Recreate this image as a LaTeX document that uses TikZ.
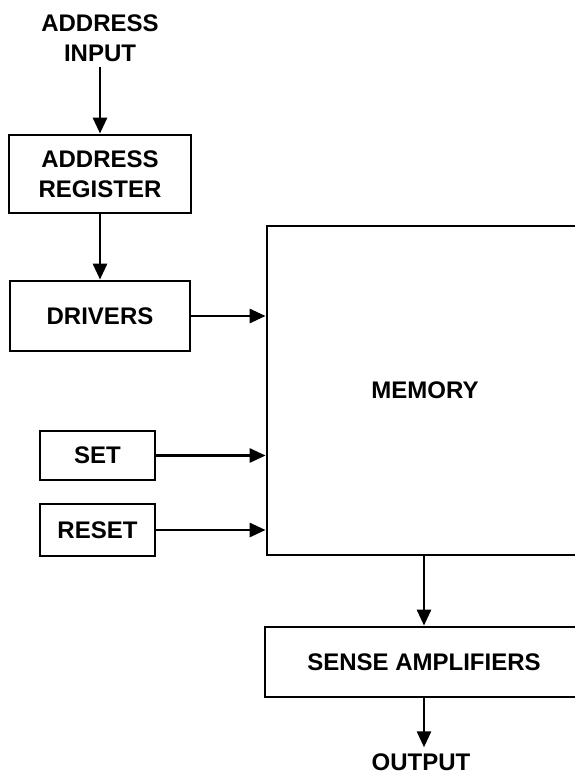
\documentclass[tikz,border=0pt]{standalone}
\usepackage{fontspec}
\setmainfont{Liberation Sans}
\usetikzlibrary{arrows.meta, positioning, calc}
\tikzset{
  blockbox/.style={
    rectangle, draw=black, line width=2.8pt,
    minimum width=#1, inner sep=0pt,
    text centered, align=center
  },
  sigarrow/.style={-{Triangle[length=16pt,width=14pt]}, line width=2.8pt},
  labeltext/.style={align=center, inner sep=6pt},
}

\begin{document}
\begin{tikzpicture}[x=1pt, y=-1pt,
    every node/.style={font=\fontsize{24}{29.5}\selectfont\bfseries}]
      \useasboundingbox (0,0) rectangle (574,776);
      \fill[white] (0,0) rectangle (574,776);
      % left column
      \node[labeltext] (addrin) at (100,38) {ADDRESS\\INPUT};
      \node[blockbox=182pt, minimum height=78pt] (addrreg) at (100,174) {ADDRESS\\REGISTER};
      \node[blockbox=180pt, minimum height=70pt] (drivers) at (100,316) {DRIVERS};
      \node[blockbox=115pt, minimum height=49pt] (set) at (97.5,455.5) {SET};
      \node[blockbox=115pt, minimum height=52pt] (reset) at (97.5,530) {RESET};
      % right column
      \node[blockbox=316pt, minimum height=329pt] (memory) at (425,390.5) {MEMORY};
      \node[blockbox=318pt, minimum height=70pt] (sense) at (424,662) {SENSE AMPLIFIERS};
      \node[labeltext] (output) at (421,762) {OUTPUT};
      % connectors
      \draw[sigarrow] (addrin.south) -- (addrreg.north);
      \draw[sigarrow] (addrreg.south) -- (drivers.north);
      \draw[sigarrow] (drivers.east) -- (drivers.east -| memory.west);
      \draw[sigarrow] (set.east) -- (set.east -| memory.west);
      \draw[sigarrow] (reset.east) -- (reset.east -| memory.west);
      \draw[sigarrow] (memory.south -| sense.north) -- (sense.north);
      \draw[sigarrow] (sense.south) -- (sense.south |- output.north);
\end{tikzpicture}
\end{document}
